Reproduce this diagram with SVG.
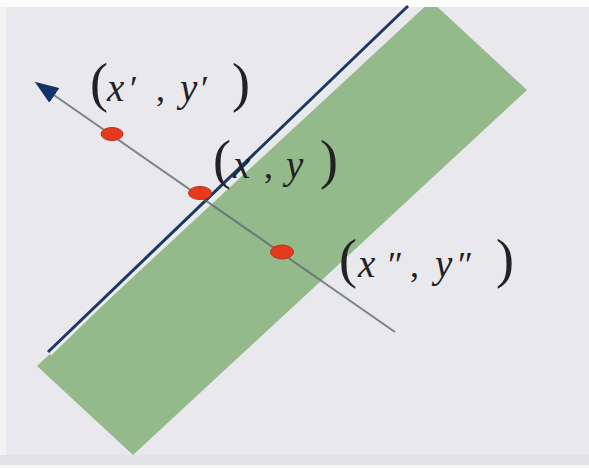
<svg xmlns="http://www.w3.org/2000/svg" width="589" height="468" viewBox="0 0 589 468">
<style>
  .lbl { font-family: "Liberation Serif", "Times New Roman", serif; fill: #222222; }
  .it { font-style: italic; font-size: 39px; }
  .rm { font-size: 36px; }
  .par { font-size: 54px; }
  .dot { fill: #e63a1e; stroke: #c0301a; stroke-width: 1; }
</style>
<defs>
  <marker id="arrow" markerUnits="userSpaceOnUse" markerWidth="24" markerHeight="18" viewBox="0 0 24 18" refX="20" refY="9" orient="auto">
    <path d="M0,0 L24,9 L0,18 z" fill="#12336a"/>
  </marker>
</defs>
<rect width="589" height="468" fill="#e9e8ed"/>
<rect x="0" y="0" width="6" height="468" fill="#f3f3f1"/>
<rect x="0" y="455" width="589" height="13" fill="#e3e3e7"/>
<rect x="0" y="465" width="589" height="3" fill="#f6f6f6"/>

<g id="band">
  <polygon points="37,366 133,455 527,90 431,1" fill="#94b98b"/>
</g>
<rect x="0" y="0" width="589" height="7" fill="#fcfcfc"/>

<g id="connectors">
  <line id="seam" x1="50.5" y1="354.5" x2="409.5" y2="7" stroke="#e8f2e6" stroke-width="2"/>
  <line id="boundary" x1="48" y1="352" x2="408" y2="6" stroke="#1f3766" stroke-width="3"/>
  <line id="normal" x1="395" y1="332" x2="38" y2="84" stroke="#5e6c6e" stroke-opacity="0.8" stroke-width="2" marker-end="url(#arrow)"/>
</g>

<g id="point-prime">
  <ellipse class="dot" cx="112" cy="134" rx="11" ry="6.5"/>
  <text class="lbl" y="101"><tspan class="par" x="90">(</tspan><tspan class="it" x="107">x</tspan><tspan class="rm" x="130">′</tspan><tspan class="rm" x="156">,</tspan><tspan class="it" x="180">y</tspan><tspan class="rm" x="201">′</tspan><tspan class="par" x="232">)</tspan></text>
</g>

<g id="point-origin">
  <ellipse class="dot" cx="200" cy="193" rx="11.5" ry="6.5"/>
  <text class="lbl" y="178"><tspan class="par" x="213">(</tspan><tspan class="it" x="233">x</tspan><tspan class="rm" x="264">,</tspan><tspan class="it" x="286">y</tspan><tspan class="par" x="320">)</tspan></text>
</g>

<g id="point-double-prime">
  <ellipse class="dot" cx="282" cy="252" rx="11.5" ry="7"/>
  <text class="lbl" y="277"><tspan class="par" x="339">(</tspan><tspan class="it" x="358">x</tspan><tspan class="rm" x="388">″</tspan><tspan class="rm" x="410">,</tspan><tspan class="it" x="435">y</tspan><tspan class="rm" x="458">″</tspan><tspan class="par" x="496">)</tspan></text>
</g>
</svg>
